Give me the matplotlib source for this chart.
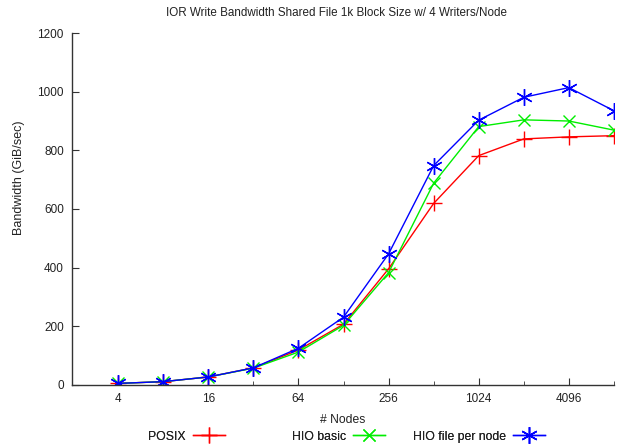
import matplotlib
matplotlib.use('Agg')
import matplotlib.pyplot as plt
from matplotlib.ticker import FixedLocator, NullFormatter

plt.rcParams['font.family'] = ['Liberation Sans', 'DejaVu Sans']

nodes = [4, 8, 16, 32, 64, 128, 256, 512, 1024, 2048, 4096, 8192]
posix = [5, 11, 27, 58, 119, 207, 396, 619, 782, 839, 846, 850]
hio_basic = [5, 11, 27, 57, 112, 203, 383, 688, 881, 904, 900, 869]
hio_file_per_node = [5, 11, 27, 58, 125, 231, 447, 748, 903, 981, 1014, 935]

major_ticks = [4, 16, 64, 256, 1024, 4096]
minor_ticks = [8, 32, 128, 512, 2048, 8192]
y_ticks = [0, 200, 400, 600, 800, 1000, 1200]

fig = plt.figure(figsize=(6.17, 4.47), dpi=100)
ax = fig.add_axes([0.117, 0.139, 0.878, 0.787])

l1, = ax.plot(nodes, posix, color='#ff0000', marker='+', markersize=11,
              markeredgewidth=1.0, linewidth=1.0, label='POSIX')
l2, = ax.plot(nodes, hio_basic, color='#00ee00', marker='x', markersize=9,
              markeredgewidth=1.0, linewidth=1.0, label='HIO basic')
l3, = ax.plot(nodes, hio_file_per_node, color='#0000ff', marker=(6, 2, 0), markersize=12,
              markeredgewidth=1.0, linewidth=1.0, label='HIO file per node')

ax.set_xscale('log', base=2)
ax.set_xlim(1.97, 8192)
ax.set_ylim(0, 1200)
ax.xaxis.set_major_locator(FixedLocator(major_ticks))
ax.xaxis.set_minor_locator(FixedLocator(minor_ticks))
ax.xaxis.set_minor_formatter(NullFormatter())
ax.set_xticklabels([str(t) for t in major_ticks])
ax.set_yticks(y_ticks)

ax.spines['top'].set_visible(False)
ax.spines['right'].set_visible(False)
for s in ('left', 'bottom'):
    ax.spines[s].set_color('#333333')
    ax.spines[s].set_linewidth(1.0)
ax.tick_params(axis='both', which='major', direction='in', length=5,
               labelsize=8.5, color='#333333', labelcolor='#222222')
ax.tick_params(axis='x', which='minor', direction='in', length=3, color='#333333')
ax.tick_params(axis='y', pad=6)
ax.tick_params(axis='x', pad=6)

ax.set_xlabel('# Nodes', fontsize=8.7, color='#222222', labelpad=6)
ax.set_ylabel('Bandwidth (GiB/sec)', fontsize=9, color='#222222')
ax.yaxis.set_label_coords(-0.087, 0.588)

fig.text(0.546, 0.972, 'IOR Write Bandwidth Shared File 1k Block Size w/ 4 Writers/Node',
         ha='center', va='center', fontsize=8.4, color='#222222')

# gnuplot-style key: right-justified text followed by the sample, fixed column width
for handle, x_end in zip([l1, l2, l3], [225, 385, 545]):
    leg = fig.legend([handle], [handle.get_label()], loc='center right',
                     bbox_to_anchor=(x_end / 617, 0.023), frameon=False,
                     markerfirst=False, fontsize=8.8, handlelength=2.6,
                     handletextpad=0.6, borderpad=0.0, borderaxespad=0.0,
                     labelcolor='#222222')
    fig.add_artist(leg)

fig.savefig('out.png', dpi=100)
